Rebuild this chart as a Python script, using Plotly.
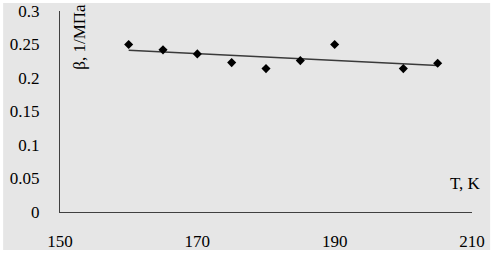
import numpy as np
import plotly.graph_objects as go

temperature = [160, 165, 170, 175, 180, 185, 190, 200, 205]
beta = [0.250, 0.242, 0.236, 0.223, 0.214, 0.226, 0.250, 0.214, 0.222]
x_ticks = [150, 170, 190, 210]
y_ticks = [0, 0.05, 0.1, 0.15, 0.2, 0.25, 0.3]
y_tick_text = ["0", "0.05", "0.1", "0.15", "0.2", "0.25", "0.3"]

slope, intercept = np.polyfit(temperature, beta, 1)
trend_x = [temperature[0], temperature[-1]]
trend_y = [slope * t + intercept for t in trend_x]

font = "Liberation Serif, DejaVu Serif, serif"
fig = go.Figure()
fig.add_trace(go.Scatter(x=trend_x, y=trend_y, mode="lines",
                         line=dict(color="#3a3a3a", width=1.5), hoverinfo="skip"))
fig.add_trace(go.Scatter(x=temperature, y=beta, mode="markers",
                         marker=dict(symbol="diamond", size=7, color="black")))

fig.update_layout(
    width=492, height=253,
    margin=dict(l=60, r=20, t=11, b=41),
    paper_bgcolor="white",
    plot_bgcolor="#e6e6e6",
    showlegend=False,
    font=dict(family=font, size=17, color="black"),
    xaxis=dict(range=[150, 210], tickvals=x_ticks, showgrid=False, zeroline=False,
               showline=True, linecolor="#404040", linewidth=1, automargin=False,
               ticks="", ticklabelstandoff=14, tickfont=dict(family=font, size=17)),
    yaxis=dict(range=[0, 0.3], tickvals=y_ticks, ticktext=y_tick_text, showgrid=False,
               zeroline=False, showline=True, linecolor="#404040", linewidth=1,
               automargin=False,
               ticks="", ticklabelstandoff=16, tickfont=dict(family=font, size=17)),
    shapes=[dict(type="rect", xref="paper", yref="paper", layer="below",
                 x0=-0.138, x1=1.044, y0=-0.189, y1=1.04,
                 fillcolor="#e6e6e6", line=dict(width=0))],
    annotations=[
        dict(text="β, 1/МПа", xref="paper", yref="paper", x=0.048, y=1.045,
             xanchor="center", yanchor="top", textangle=-90, showarrow=False,
             font=dict(family=font, size=17)),
        dict(text="T, K", xref="paper", yref="paper", x=0.985, y=0.144,
             xanchor="center", yanchor="middle", showarrow=False,
             font=dict(family=font, size=17)),
    ],
)
fig.write_html("out.html", config={"displayModeBar": False},
               post_script="document.body.style.margin='0';")
